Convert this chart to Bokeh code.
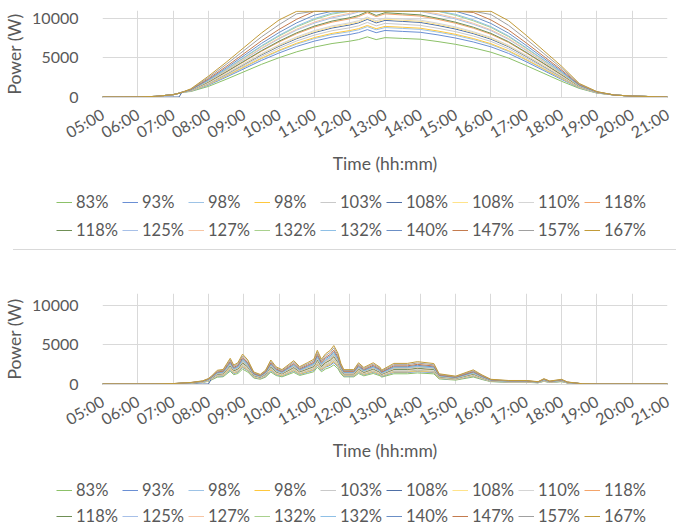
import math
from bokeh.plotting import figure
from bokeh.models import Range1d, FixedTicker, Legend, LegendItem, Div
from bokeh.layouts import column
from bokeh.embed import file_html
from bokeh.resources import INLINE

# ---------------- data ----------------
x_tick_labels = ["05:00", "06:00", "07:00", "08:00", "09:00", "10:00", "11:00", "12:00",
                 "13:00", "14:00", "15:00", "16:00", "17:00", "18:00", "19:00", "20:00", "21:00"]
y_ticks = [0, 5000, 10000]

series_labels = ["83%", "93%", "98%", "98%", "103%", "108%", "108%", "110%", "118%",
                 "118%", "125%", "127%", "132%", "132%", "140%", "147%", "157%", "167%"]
series_colors = ["#8CC168", "#6A8FD4", "#9DC3E6", "#FFC83D", "#C9C9C9", "#4E6FA6",
                 "#FFE38A", "#D5D5D5", "#F4A46A", "#6F8F55", "#A7C0E8", "#F7C5A3",
                 "#A9D18E", "#8FC0E6", "#6B8FC6", "#C47B4E", "#A0A0A0", "#C29B38"]

# Panel 1 (clear day)
top_times = ["05:00", "05:30", "06:00", "06:30", "07:00", "07:10", "07:15", "07:30", "08:00",
             "08:30", "09:00", "09:30", "10:00", "10:30", "11:00", "11:30", "12:00", "12:15",
             "12:30", "12:45", "13:00", "13:30", "14:00", "14:30", "15:00", "15:30", "16:00",
             "16:30", "17:00", "17:30", "18:00", "18:30", "19:00", "19:30", "20:00", "21:00"]
top_p083 = [0, 0, 10, 80, 300, 480, 600, 700, 1350, 2250, 3200, 4150, 5000, 5750, 6350, 6800, 7100, 7300, 7650, 7300, 7550, 7450, 7350, 7050, 6700, 6250, 5700, 4950, 4000, 3000, 2000, 1100, 500, 250, 120, 0]
top_p093 = [0, 0, 10, 80, 300, 480, 600, 740, 1510, 2520, 3580, 4650, 5600, 6440, 7110, 7620, 7950, 8180, 8570, 8180, 8460, 8340, 8230, 7900, 7500, 7000, 6380, 5540, 4480, 3360, 2240, 1180, 520, 250, 120, 0]
top_p098a = [0, 0, 10, 80, 300, 480, 600, 760, 1580, 2630, 3740, 4860, 5850, 6730, 7430, 7960, 8310, 8540, 8950, 8540, 8830, 8720, 8600, 8250, 7840, 7310, 6670, 5790, 4680, 3510, 2340, 1210, 530, 250, 120, 0]
top_p098b = [0, 0, 10, 80, 300, 480, 600, 770, 1610, 2680, 3810, 4940, 5950, 6840, 7560, 8090, 8450, 8690, 9100, 8690, 8980, 8870, 8750, 8390, 7970, 7440, 6780, 5890, 4760, 3570, 2380, 1230, 540, 250, 120, 0]
top_p103 = [0, 0, 10, 80, 300, 480, 600, 780, 1670, 2790, 3970, 5150, 6200, 7130, 7870, 8430, 8800, 9050, 9490, 9050, 9360, 9240, 9110, 8740, 8310, 7750, 7070, 6140, 4960, 3720, 2480, 1260, 550, 250, 120, 0]
top_p108a = [0, 0, 0, 0, 0, 0, 600, 800, 1740, 2900, 4130, 5350, 6450, 7420, 8190, 8770, 9160, 9420, 9870, 9420, 9740, 9610, 9480, 9090, 8640, 8060, 7350, 6390, 5160, 3870, 2580, 1290, 560, 250, 120, 0]
top_p108b = [0, 0, 10, 80, 300, 480, 600, 810, 1770, 2950, 4190, 5440, 6550, 7530, 8320, 8910, 9300, 9560, 10020, 9560, 9890, 9760, 9630, 9240, 8780, 8190, 7470, 6480, 5240, 3930, 2620, 1300, 560, 250, 120, 0]
top_p110 = [0, 0, 10, 80, 300, 480, 600, 820, 1800, 2990, 4260, 5520, 6650, 7650, 8450, 9040, 9440, 9710, 10170, 9710, 10040, 9910, 9780, 9380, 8910, 8310, 7580, 6580, 5320, 3990, 2660, 1320, 570, 250, 120, 0]
top_p118a = [0, 0, 10, 80, 300, 480, 600, 840, 1890, 3150, 4480, 5810, 7000, 8050, 8890, 9520, 9940, 10220, 10710, 10220, 10570, 10430, 10290, 9870, 9380, 8750, 7980, 6930, 5600, 4200, 2800, 1360, 580, 250, 120, 0]
top_p118b = [0, 0, 10, 80, 300, 480, 600, 850, 1920, 3200, 4540, 5890, 7100, 8170, 9020, 9660, 10080, 10370, 10860, 10370, 10720, 10580, 10440, 10010, 9510, 8880, 8090, 7030, 5680, 4260, 2840, 1380, 580, 250, 120, 0]
top_p125 = [0, 0, 10, 80, 300, 480, 600, 870, 2000, 3330, 4740, 6140, 7400, 8510, 9400, 10060, 10510, 10800, 10900, 10800, 10900, 10900, 10880, 10430, 9920, 9250, 8440, 7330, 5920, 4440, 2960, 1420, 600, 250, 120, 0]
top_p127 = [0, 0, 10, 80, 300, 480, 600, 880, 2030, 3380, 4800, 6230, 7500, 8630, 9530, 10200, 10650, 10900, 10900, 10900, 10900, 10900, 10900, 10580, 10050, 9380, 8550, 7430, 6000, 4500, 3000, 1430, 600, 250, 120, 0]
top_p132a = [0, 0, 10, 80, 300, 480, 600, 890, 2090, 3490, 4960, 6430, 7750, 8910, 9840, 10540, 10900, 10900, 10900, 10900, 10900, 10900, 10900, 10900, 10390, 9690, 8840, 7670, 6200, 4650, 3100, 1460, 610, 250, 120, 0]
top_p132b = [0, 0, 10, 80, 300, 480, 600, 900, 2120, 3530, 5020, 6520, 7850, 9030, 9970, 10680, 10900, 10900, 10900, 10900, 10900, 10900, 10900, 10900, 10520, 9810, 8950, 7770, 6280, 4710, 3140, 1480, 610, 250, 120, 0]
top_p140 = [0, 0, 10, 80, 300, 480, 600, 920, 2210, 3690, 5250, 6810, 8200, 9430, 10410, 10900, 10900, 10900, 10900, 10900, 10900, 10900, 10900, 10900, 10900, 10250, 9350, 8120, 6560, 4920, 3280, 1520, 630, 250, 120, 0]
top_p147 = [0, 0, 10, 80, 300, 480, 600, 950, 2320, 3870, 5500, 7140, 8600, 9890, 10900, 10900, 10900, 10900, 10900, 10900, 10900, 10900, 10900, 10900, 10900, 10750, 9800, 8510, 6880, 5160, 3440, 1580, 640, 250, 120, 0]
top_p157 = [0, 0, 10, 80, 300, 480, 600, 990, 2480, 4140, 5890, 7640, 9200, 10580, 10900, 10900, 10900, 10900, 10900, 10900, 10900, 10900, 10900, 10900, 10900, 10900, 10490, 9110, 7360, 5520, 3680, 1650, 670, 250, 120, 0]
top_p167 = [0, 0, 10, 80, 300, 480, 600, 1040, 2650, 4410, 6270, 8130, 9800, 10900, 10900, 10900, 10900, 10900, 10900, 10900, 10900, 10900, 10900, 10900, 10900, 10900, 10900, 9700, 7840, 5880, 3920, 1730, 690, 250, 120, 0]

# Panel 2 (cloudy day)
bot_times = ["05:00", "06:00", "06:30", "07:00", "07:30", "07:50", "08:00", "08:05", "08:15", "08:25",
             "08:37", "08:43", "08:50", "08:58", "09:07", "09:17", "09:28", "09:37", "09:46", "09:55",
             "10:05", "10:25", "10:35", "10:48", "10:59", "11:05", "11:12", "11:19", "11:27", "11:33",
             "11:40", "11:45", "11:50", "12:07", "12:15", "12:24", "12:40", "12:52", "12:54", "13:15",
             "13:38", "13:55", "14:23", "14:32", "15:00", "15:30", "15:45", "16:00", "16:30", "17:00",
             "17:20", "17:30", "17:40", "18:00", "18:10", "18:35", "19:00", "21:00"]
bot_p083 = [0, 0, 5, 30, 100, 200, 350, 500, 870, 920, 1630, 1190, 1340, 1890, 1520, 760, 610, 870, 1520, 1080, 910, 1480, 1090, 1340, 1560, 2130, 1560, 1910, 2130, 2430, 1950, 1300, 910, 910, 1340, 1040, 1340, 1040, 870, 1300, 1300, 1410, 1290, 650, 500, 890, 570, 300, 220, 220, 150, 340, 190, 300, 130, 20, 0, 0]
bot_p093 = [0, 0, 6, 33, 110, 220, 390, 560, 970, 1030, 1820, 1340, 1500, 2120, 1700, 850, 680, 970, 1700, 1210, 1020, 1650, 1230, 1500, 1750, 2380, 1750, 2140, 2380, 2720, 2190, 1460, 1020, 1020, 1500, 1170, 1500, 1170, 970, 1460, 1460, 1580, 1450, 720, 560, 1000, 640, 330, 250, 250, 170, 380, 210, 330, 140, 22, 0, 0]
bot_p098a = [0, 0, 6, 35, 120, 230, 410, 590, 1030, 1090, 1920, 1410, 1580, 2230, 1790, 900, 720, 1030, 1790, 1280, 1070, 1740, 1290, 1580, 1840, 2510, 1840, 2250, 2510, 2870, 2310, 1540, 1070, 1070, 1580, 1230, 1580, 1230, 1030, 1540, 1540, 1670, 1530, 760, 590, 1060, 680, 350, 260, 260, 180, 400, 220, 350, 150, 23, 0, 0]
bot_p098b = [0, 0, 6, 35, 120, 230, 410, 590, 1030, 1090, 1920, 1410, 1580, 2230, 1790, 900, 720, 1030, 1790, 1280, 1070, 1740, 1290, 1580, 1840, 2510, 1840, 2250, 2510, 2870, 2310, 1540, 1070, 1070, 1580, 1230, 1580, 1230, 1030, 1540, 1540, 1670, 1530, 760, 590, 1060, 680, 350, 260, 260, 180, 400, 220, 350, 150, 23, 0, 0]
bot_p103 = [0, 0, 6, 37, 120, 250, 430, 620, 1080, 1140, 2020, 1480, 1670, 2340, 1880, 940, 750, 1080, 1880, 1350, 1130, 1830, 1360, 1670, 1940, 2640, 1940, 2370, 2640, 3020, 2420, 1620, 1130, 1130, 1670, 1300, 1670, 1300, 1080, 1620, 1620, 1750, 1600, 800, 620, 1110, 710, 370, 280, 280, 190, 420, 230, 370, 160, 25, 0, 0]
bot_p108a = [0, 0, 0, 0, 0, 0, 0, 650, 1130, 1200, 2120, 1550, 1750, 2460, 1970, 990, 790, 1130, 1970, 1410, 1180, 1920, 1420, 1750, 2030, 2770, 2030, 2480, 2770, 3160, 2540, 1700, 1180, 1180, 1750, 1360, 1750, 1360, 1130, 1700, 1700, 1840, 1680, 840, 650, 1160, 740, 390, 290, 290, 190, 440, 250, 390, 170, 26, 0, 0]
bot_p108b = [0, 0, 6, 39, 130, 260, 450, 650, 1130, 1200, 2120, 1550, 1750, 2460, 1970, 990, 790, 1130, 1970, 1410, 1180, 1920, 1420, 1750, 2030, 2770, 2030, 2480, 2770, 3160, 2540, 1700, 1180, 1180, 1750, 1360, 1750, 1360, 1130, 1700, 1700, 1840, 1680, 840, 650, 1160, 740, 390, 290, 290, 190, 440, 250, 390, 170, 26, 0, 0]
bot_p110 = [0, 0, 7, 40, 130, 260, 460, 660, 1150, 1220, 2150, 1580, 1780, 2500, 2010, 1010, 800, 1150, 2010, 1440, 1210, 1960, 1450, 1780, 2070, 2820, 2070, 2530, 2820, 3220, 2590, 1730, 1210, 1210, 1780, 1380, 1780, 1380, 1150, 1730, 1730, 1870, 1710, 860, 660, 1190, 760, 400, 300, 300, 200, 450, 250, 400, 170, 26, 0, 0]
bot_p118a = [0, 0, 7, 42, 140, 280, 490, 710, 1240, 1310, 2310, 1700, 1910, 2690, 2160, 1080, 860, 1240, 2160, 1540, 1290, 2100, 1560, 1910, 2220, 3030, 2220, 2710, 3030, 3460, 2780, 1850, 1290, 1290, 1910, 1480, 1910, 1480, 1240, 1850, 1850, 2010, 1840, 920, 710, 1270, 810, 420, 320, 320, 210, 480, 270, 420, 180, 28, 0, 0]
bot_p118b = [0, 0, 7, 42, 140, 280, 490, 710, 1240, 1310, 2310, 1700, 1910, 2690, 2160, 1080, 860, 1240, 2160, 1540, 1290, 2100, 1560, 1910, 2220, 3030, 2220, 2710, 3030, 3460, 2780, 1850, 1290, 1290, 1910, 1480, 1910, 1480, 1240, 1850, 1850, 2010, 1840, 920, 710, 1270, 810, 420, 320, 320, 210, 480, 270, 420, 180, 28, 0, 0]
bot_p125 = [0, 0, 7, 45, 150, 300, 520, 750, 1310, 1390, 2450, 1800, 2020, 2850, 2280, 1150, 910, 1310, 2280, 1630, 1370, 2220, 1650, 2020, 2350, 3210, 2350, 2880, 3210, 3660, 2940, 1960, 1370, 1370, 2020, 1570, 2020, 1570, 1310, 1960, 1960, 2130, 1950, 970, 750, 1350, 860, 450, 340, 340, 220, 510, 280, 450, 190, 30, 0, 0]
bot_p127 = [0, 0, 8, 46, 150, 300, 530, 760, 1330, 1410, 2490, 1820, 2050, 2890, 2320, 1160, 930, 1330, 2320, 1660, 1390, 2260, 1670, 2050, 2390, 3250, 2390, 2920, 3250, 3720, 2990, 1990, 1390, 1390, 2050, 1600, 2050, 1600, 1330, 1990, 1990, 2160, 1980, 990, 760, 1370, 870, 460, 340, 340, 230, 520, 290, 460, 200, 30, 0, 0]
bot_p132a = [0, 0, 8, 47, 160, 320, 550, 790, 1380, 1460, 2580, 1900, 2130, 3000, 2410, 1210, 960, 1380, 2410, 1720, 1450, 2350, 1740, 2130, 2480, 3380, 2480, 3030, 3380, 3860, 3100, 2070, 1450, 1450, 2130, 1660, 2130, 1660, 1380, 2070, 2070, 2240, 2050, 1030, 790, 1420, 910, 470, 360, 360, 240, 540, 300, 470, 210, 32, 0, 0]
bot_p132b = [0, 0, 8, 47, 160, 320, 550, 790, 1380, 1460, 2580, 1900, 2130, 3000, 2410, 1210, 960, 1380, 2410, 1720, 1450, 2350, 1740, 2130, 2480, 3380, 2480, 3030, 3380, 3860, 3100, 2070, 1450, 1450, 2130, 1660, 2130, 1660, 1380, 2070, 2070, 2240, 2050, 1030, 790, 1420, 910, 470, 360, 360, 240, 540, 300, 470, 210, 32, 0, 0]
bot_p140 = [0, 0, 8, 50, 170, 340, 590, 840, 1470, 1550, 2740, 2010, 2260, 3180, 2560, 1280, 1020, 1470, 2560, 1830, 1530, 2490, 1840, 2260, 2630, 3590, 2630, 3220, 3590, 4100, 3290, 2200, 1530, 1530, 2260, 1760, 2260, 1760, 1470, 2200, 2200, 2380, 2180, 1090, 840, 1510, 960, 500, 380, 380, 250, 570, 320, 500, 220, 34, 0, 0]
bot_p147 = [0, 0, 9, 53, 180, 350, 620, 880, 1540, 1630, 2880, 2110, 2380, 3340, 2680, 1350, 1070, 1540, 2680, 1920, 1610, 2610, 1940, 2380, 2760, 3770, 2760, 3380, 3770, 4300, 3460, 2310, 1610, 1610, 2380, 1850, 2380, 1850, 1540, 2310, 2310, 2500, 2290, 1140, 880, 1580, 1010, 530, 400, 400, 260, 600, 330, 530, 230, 35, 0, 0]
bot_p157 = [0, 0, 9, 56, 190, 380, 660, 940, 1650, 1740, 3070, 2260, 2540, 3570, 2870, 1440, 1150, 1650, 2870, 2050, 1720, 2790, 2070, 2540, 2950, 4020, 2950, 3610, 4020, 4600, 3690, 2460, 1720, 1720, 2540, 1970, 2540, 1970, 1650, 2460, 2460, 2670, 2440, 1220, 940, 1690, 1080, 560, 420, 420, 280, 640, 360, 560, 240, 38, 0, 0]
bot_p167 = [0, 0, 10, 60, 200, 400, 700, 1000, 1750, 1850, 3270, 2400, 2700, 3800, 3050, 1530, 1220, 1750, 3050, 2180, 1830, 2970, 2200, 2700, 3140, 4280, 3140, 3840, 4280, 4890, 3930, 2620, 1830, 1830, 2700, 2100, 2700, 2100, 1750, 2620, 2620, 2840, 2600, 1300, 1000, 1800, 1150, 600, 450, 450, 300, 680, 380, 600, 260, 40, 0, 0]

top_series = [top_p083, top_p093, top_p098a, top_p098b, top_p103, top_p108a, top_p108b, top_p110,
              top_p118a, top_p118b, top_p125, top_p127, top_p132a, top_p132b, top_p140, top_p147,
              top_p157, top_p167]
bot_series = [bot_p083, bot_p093, bot_p098a, bot_p098b, bot_p103, bot_p108a, bot_p108b, bot_p110,
              bot_p118a, bot_p118b, bot_p125, bot_p127, bot_p132a, bot_p132b, bot_p140, bot_p147,
              bot_p157, bot_p167]

# ---------------- styling ----------------
FONT = "Lato"
TXT = "#595959"
GRID = "#D9D9D9"


def hours(s):
    h, m = s.split(":")
    return int(h) + int(m) / 60.0


def make_panel(times, series, y_end, frame_h, border_top, border_bottom):
    xs = [hours(t) for t in times]
    p = figure(frame_width=565, frame_height=frame_h, x_range=Range1d(5, 21),
               y_range=Range1d(-60, y_end), output_backend="svg", toolbar_location=None,
               min_border_left=102, min_border_right=16, min_border_top=border_top,
               min_border_bottom=border_bottom, background_fill_color="white",
               border_fill_color="white")
    p.outline_line_color = None
    for vals, col in zip(series, series_colors):
        assert len(vals) == len(xs)
        p.line(xs, vals, line_color=col, line_width=1)

    x_ticks = [int(hours(s)) for s in x_tick_labels]
    p.xaxis.ticker = FixedTicker(ticks=x_ticks)
    p.xaxis.major_label_overrides = {t: s for t, s in zip(x_ticks, x_tick_labels)}
    p.xgrid.ticker = FixedTicker(ticks=x_ticks)
    p.yaxis.ticker = FixedTicker(ticks=y_ticks)
    p.xaxis.major_label_orientation = math.radians(30)
    for ax in (p.xaxis, p.yaxis):
        ax.major_tick_line_color = None
        ax.minor_tick_line_color = None
        ax.major_label_text_font = FONT
        ax.major_label_text_font_size = "16px"
        ax.major_label_text_color = TXT
        ax.axis_label_text_font = FONT
        ax.axis_label_text_font_size = "17.5px"
        ax.axis_label_text_font_style = "normal"
        ax.axis_label_text_color = TXT
    p.xaxis.axis_line_color = GRID
    p.yaxis.axis_line_color = None
    p.xaxis.axis_label = "Time (hh:mm)"
    p.yaxis.axis_label = "Power (W)"
    p.xaxis.major_label_standoff = 9
    p.xaxis.axis_label_standoff = 0
    p.yaxis.major_label_standoff = 18
    p.yaxis.axis_label_standoff = 4
    p.xgrid.grid_line_color = GRID
    p.ygrid.grid_line_color = GRID
    return p, xs


def make_legend_row(height, vy, xs, series, colors, labels):
    # one legend row per strip; its series are drawn far outside the visible range,
    # so only the legend (keyed to those renderers) shows
    lp = figure(width=683, height=height, x_range=Range1d(5, 21),
                y_range=Range1d(-3000, -2000),
                x_axis_type=None, y_axis_type=None, output_backend="svg",
                toolbar_location=None, min_border=0, min_border_left=0,
                min_border_right=0, min_border_top=0, min_border_bottom=0,
                outline_line_color=None,
                background_fill_color="white", border_fill_color="white")
    lp.xgrid.visible = False
    lp.ygrid.visible = False
    rends = [lp.line(xs, vals, line_color=c, line_width=1) for vals, c in zip(series, colors)]
    items = [LegendItem(label=lab, renderers=[r]) for lab, r in zip(labels, rends)]
    leg = Legend(items=items, orientation="horizontal", location=(56, vy),
                 glyph_width=16, glyph_height=18, label_standoff=4, spacing=2,
                 label_width=44, label_height=18,
                 label_text_font=FONT, label_text_font_size="16.5px", label_text_color=TXT,
                 border_line_color=None, background_fill_alpha=0, padding=0, margin=0)
    lp.add_layout(leg)
    return lp


def legend_strips(xs, series, heights, vys):
    a = make_legend_row(heights[0], vys[0], xs, series[:9], series_colors[:9], series_labels[:9])
    b = make_legend_row(heights[1], vys[1], xs, series[9:], series_colors[9:], series_labels[9:])
    return column(a), column(b)


p1, xs1 = make_panel(top_times, top_series, 11000, 87, 10, 88)          # canvas 0..185
l1a, l1b = legend_strips(xs1, top_series, (32, 30), (5, 7))              # 185..217, 217..247
sep = Div(text="", width=663, height=1, margin=(2, 0, 0, 13),
          styles={"background-color": GRID})                             # line at ~249
p2, xs2 = make_panel(bot_times, bot_series, 11500, 91, 43, 88)          # 250..472
l2a, l2b = legend_strips(xs2, bot_series, (31, 23), (3, 0))              # 472..503, 503..526

layout = column(p1, l1a, l1b, sep, p2, l2a, l2b, spacing=0)

with open("out.html", "w") as f:
    f.write(file_html(layout, INLINE))
